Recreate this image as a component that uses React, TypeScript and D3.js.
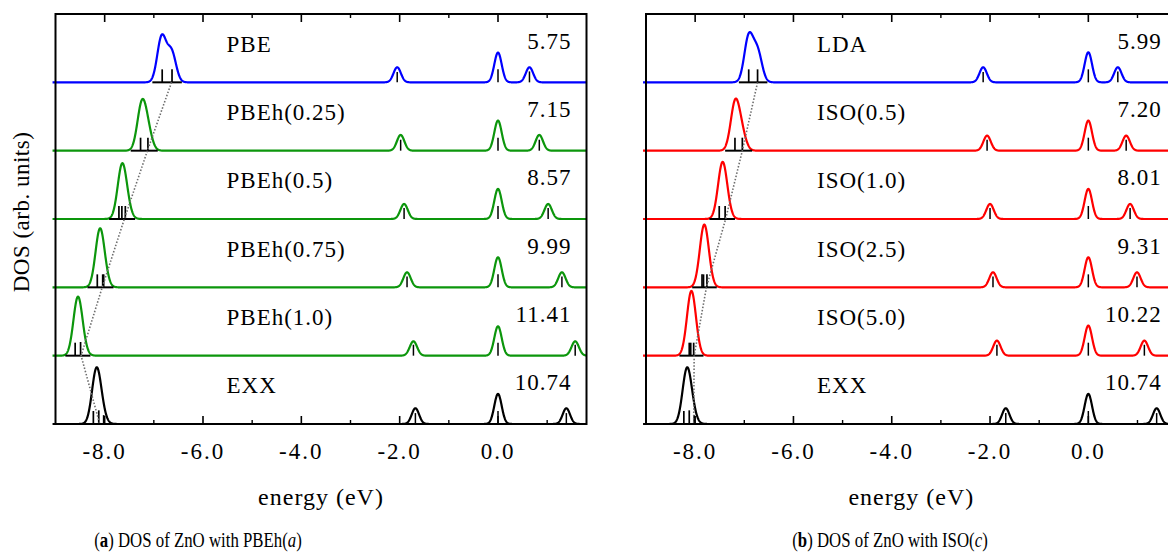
import React from 'react';
import * as d3 from 'd3';

const WIDTH = 1168;
const HEIGHT = 552;

// Energy axis (eV)
const ENERGY_MIN = -9;
const ENERGY_MAX = 1.8;
const majorTickValues = [-8, -6, -4, -2, 0];
const majorTickLabels = ['-8.0', '-6.0', '-4.0', '-2.0', '0.0'];
const minorTickValues = [-7, -5, -3, -1, 1];

const BLUE = '#0000ff';
const GREEN = '#0c960c';
const RED = '#ff0000';
const BLACK = '#000000';

// Exact exchange reference row, shared by both panels
const exxDBand: [number, number][] = [[-8.17, 0.75], [-8.07, 0.14]];
const exxSticks: [number, number][] = [[-8.23, 0.19], [-8.12, 0.2], [-8.02, 0.13]];
const exxLevels: [number, number, number][] = [[-1.68, 0.23, 0.16], [0, 0.44, 0.19], [1.39, 0.23, 0.16]];

// Panel (a): PBEh(a)
const rowLabelsA = ['PBE', 'PBEh(0.25)', 'PBEh(0.5)', 'PBEh(0.75)', 'PBEh(1.0)', 'EXX'];
const gapLabelsA = ['5.75', '7.15', '8.57', '9.99', '11.41', '10.74'];
const rowColorsA = [BLUE, GREEN, GREEN, GREEN, GREEN, BLACK];
// Zn-3d band, Gaussian components [energy, weight]
const dBandA: [number, number][][] = [
  [[-6.84, 0.66], [-6.64, 0.44]],
  [[-7.25, 0.62], [-7.13, 0.28]],
  [[-7.65, 0.72], [-7.56, 0.15]],
  [[-8.10, 0.78], [-8.02, 0.12]],
  [[-8.55, 0.78], [-8.47, 0.12]],
  exxDBand,
];
// d-level sticks [energy, height]
const sticksA: [number, number][][] = [
  [[-6.83, 0.19], [-6.63, 0.19]],
  [[-7.27, 0.19], [-7.12, 0.19]],
  [[-7.71, 0.19], [-7.65, 0.19], [-7.58, 0.19]],
  [[-8.15, 0.19], [-8.04, 0.19], [-8.02, 0.19]],
  [[-8.6, 0.19], [-8.49, 0.2]],
  exxSticks,
];
// single levels [energy, weight, stick height]
const levelsA: [number, number, number][][] = [
  [[-2.05, 0.22, 0.15], [0, 0.435, 0.19], [0.64, 0.22, 0.16]],
  [[-1.98, 0.23, 0.16], [0, 0.44, 0.19], [0.84, 0.23, 0.16]],
  [[-1.91, 0.22, 0.16], [0, 0.44, 0.19], [1.02, 0.22, 0.16]],
  [[-1.85, 0.22, 0.16], [0, 0.44, 0.19], [1.3, 0.22, 0.16]],
  [[-1.72, 0.21, 0.16], [0, 0.43, 0.19], [1.57, 0.21, 0.16]],
  exxLevels,
];
// d-band position followed across rows
const trackA = [-6.64, -7.13, -7.6, -8.05, -8.48, -8.1];

// Panel (b): ISO(c)
const rowLabelsB = ['LDA', 'ISO(0.5)', 'ISO(1.0)', 'ISO(2.5)', 'ISO(5.0)', 'EXX'];
const gapLabelsB = ['5.99', '7.20', '8.01', '9.31', '10.22', '10.74'];
const rowColorsB = [BLUE, RED, RED, RED, RED, BLACK];
const dBandB: [number, number][][] = [
  [[-6.91, 0.66], [-6.73, 0.44]],
  [[-7.19, 0.66], [-7.06, 0.25]],
  [[-7.45, 0.72], [-7.38, 0.15]],
  [[-7.82, 0.82], [-7.76, 0.12]],
  [[-8.08, 0.86], [-8.03, 0.1]],
  exxDBand,
];
const sticksB: [number, number][][] = [
  [[-6.91, 0.19], [-6.73, 0.19]],
  [[-7.19, 0.19], [-7.04, 0.19]],
  [[-7.51, 0.19], [-7.39, 0.19]],
  [[-7.86, 0.19], [-7.83, 0.19], [-7.76, 0.19]],
  [[-8.12, 0.19], [-8.09, 0.19], [-8.03, 0.19]],
  exxSticks,
];
const levelsB: [number, number, number][][] = [
  [[-2.14, 0.22, 0.15], [0, 0.44, 0.19], [0.6, 0.22, 0.16]],
  [[-2.06, 0.22, 0.16], [0, 0.44, 0.19], [0.77, 0.22, 0.16]],
  [[-2.0, 0.22, 0.16], [0, 0.44, 0.19], [0.85, 0.22, 0.16]],
  [[-1.94, 0.22, 0.16], [0, 0.44, 0.19], [0.99, 0.22, 0.16]],
  [[-1.86, 0.22, 0.16], [0, 0.44, 0.19], [1.14, 0.22, 0.16]],
  exxLevels,
];
const trackB = [-6.73, -7.04, -7.38, -7.77, -8.02, -8.03];

// Gaussian broadening widths (eV)
const SIGMA_D = 0.09;
const SIGMA_LEVEL = 0.075;

const PLOT_TOP = 14;
const PLOT_BOTTOM = 424;
const N_ROWS = 6;
const ROW_H = (PLOT_BOTTOM - PLOT_TOP) / N_ROWS;

const FONT = '"Liberation Serif", "Times New Roman", serif';

const gauss = (e: number, e0: number, s: number) => Math.exp(-((e - e0) * (e - e0)) / (2 * s * s));

const energyGrid = d3.range(ENERGY_MIN - 0.06, ENERGY_MAX + 0.0001, 0.004);

type PanelProps = {
  x0: number;
  x1: number;
  labels: string[];
  gaps: string[];
  colors: string[];
  dBand: [number, number][][];
  sticks: [number, number][][];
  levels: [number, number, number][][];
  track: number[];
};

function Panel({ x0, x1, labels, gaps, colors, dBand, sticks, levels, track }: PanelProps) {
  const x = d3.scaleLinear().domain([ENERGY_MIN, ENERGY_MAX]).range([x0, x1]);
  const baselines = d3.range(N_ROWS).map((i) => PLOT_TOP + (i + 1) * ROW_H);
  const yFor = (i: number) => d3.scaleLinear().domain([0, 1]).range([baselines[i], baselines[i] - ROW_H]);

  const trackLine = d3
    .line<number>()
    .x((e) => x(e))
    .y((_, i) => baselines[i]);

  return (
    <g>
      {d3.range(N_ROWS).map((i) => {
        const y = yFor(i);
        const dos = (e: number) =>
          dBand[i].reduce((s, [e0, w]) => s + w * gauss(e, e0, SIGMA_D), 0) +
          levels[i].reduce((s, [e0, w]) => s + w * gauss(e, e0, SIGMA_LEVEL), 0);
        const line = d3
          .line<number>()
          .x((e) => x(e))
          .y((e) => y(dos(e)));
        const dEs = sticks[i].map((s) => s[0]);
        const spanLo = (d3.min(dEs) as number) - 0.2;
        const spanHi = (d3.max(dEs) as number) + 0.2;
        return (
          <g key={i}>
            <path d={line(energyGrid) || ''} fill="none" stroke={colors[i]} strokeWidth={2.2} strokeLinejoin="round" />
            <line x1={x(spanLo)} x2={x(spanHi)} y1={y(0)} y2={y(0)} stroke={BLACK} strokeWidth={2} />
            {sticks[i].map(([e, h], k) => (
              <line key={'s' + k} x1={x(e)} x2={x(e)} y1={y(0)} y2={y(h)} stroke={BLACK} strokeWidth={1.7} />
            ))}
            {levels[i].map(([e, , h], k) => (
              <line key={'l' + k} x1={x(e)} x2={x(e)} y1={y(0)} y2={y(h)} stroke={BLACK} strokeWidth={1.5} />
            ))}
            <text
              x={x0 + 171}
              y={baselines[i] - ROW_H + 37.5}
              fontFamily={FONT}
              fontSize={23}
              letterSpacing={1}
              fill={BLACK}
            >
              {labels[i]}
            </text>
            <text
              x={x1 - 15}
              y={baselines[i] - ROW_H + 34.5}
              fontFamily={FONT}
              fontSize={23}
              letterSpacing={1}
              textAnchor="end"
              fill={BLACK}
            >
              {gaps[i]}
            </text>
          </g>
        );
      })}
      <path d={trackLine(track) || ''} fill="none" stroke="#6e6e6e" strokeWidth={1.6} strokeDasharray="1.5 1.8" />
      {/* frame */}
      <rect x={x0} y={PLOT_TOP} width={x1 - x0} height={PLOT_BOTTOM - PLOT_TOP} fill="none" stroke={BLACK} strokeWidth={2} />
      {majorTickValues.map((v) => (
        <g key={'M' + v}>
          <line x1={x(v)} x2={x(v)} y1={PLOT_BOTTOM} y2={PLOT_BOTTOM - 8} stroke={BLACK} strokeWidth={1.6} />
          <line x1={x(v)} x2={x(v)} y1={PLOT_TOP} y2={PLOT_TOP + 8} stroke={BLACK} strokeWidth={1.6} />
        </g>
      ))}
      {minorTickValues.map((v) => (
        <g key={'m' + v}>
          <line x1={x(v)} x2={x(v)} y1={PLOT_BOTTOM} y2={PLOT_BOTTOM - 4} stroke={BLACK} strokeWidth={1.4} />
          <line x1={x(v)} x2={x(v)} y1={PLOT_TOP} y2={PLOT_TOP + 4} stroke={BLACK} strokeWidth={1.4} />
        </g>
      ))}
      {majorTickValues.map((v, k) => (
        <text
          key={'t' + v}
          x={x(v)}
          y={459}
          textAnchor="middle"
          fontFamily={FONT}
          fontSize={23}
          letterSpacing={2}
          fill={BLACK}
        >
          {majorTickLabels[k]}
        </text>
      ))}
      <text
        x={(x0 + x1) / 2}
        y={505}
        textAnchor="middle"
        fontFamily={FONT}
        fontSize={24}
        letterSpacing={1}
        fill={BLACK}
      >
        energy (eV)
      </text>
    </g>
  );
}

function Caption({ cx, tag, method, arg }: { cx: number; tag: string; method: string; arg: string }) {
  return (
    <g transform={`translate(${cx},547) scale(0.82,1)`}>
      <text x={0} y={0} textAnchor="middle" fontFamily={FONT} fontSize={20.5} fill={BLACK}>
        (<tspan fontWeight="bold">{tag}</tspan>) DOS of ZnO with {method}(<tspan fontStyle="italic">{arg}</tspan>)
      </text>
    </g>
  );
}

export default function App() {
  return (
    <svg
      width={WIDTH}
      height={HEIGHT}
      viewBox={`0 0 ${WIDTH} ${HEIGHT}`}
      style={{ position: 'absolute', left: 0, top: 0, background: '#fff' }}
    >
      <rect x={0} y={0} width={WIDTH} height={HEIGHT} fill="#fff" />
      <text
        transform="translate(29,212) rotate(-90)"
        textAnchor="middle"
        fontFamily={FONT}
        fontSize={23}
        letterSpacing={0.5}
        fill={BLACK}
      >
        DOS (arb. units)
      </text>
      <Panel
        x0={55.5}
        x1={586.5}
        labels={rowLabelsA}
        gaps={gapLabelsA}
        colors={rowColorsA}
        dBand={dBandA}
        sticks={sticksA}
        levels={levelsA}
        track={trackA}
      />
      <Panel
        x0={646}
        x1={1176.8}
        labels={rowLabelsB}
        gaps={gapLabelsB}
        colors={rowColorsB}
        dBand={dBandB}
        sticks={sticksB}
        levels={levelsB}
        track={trackB}
      />
      <Caption cx={198} tag="a" method="PBEh" arg="a" />
      <Caption cx={890} tag="b" method="ISO" arg="c" />
    </svg>
  );
}
